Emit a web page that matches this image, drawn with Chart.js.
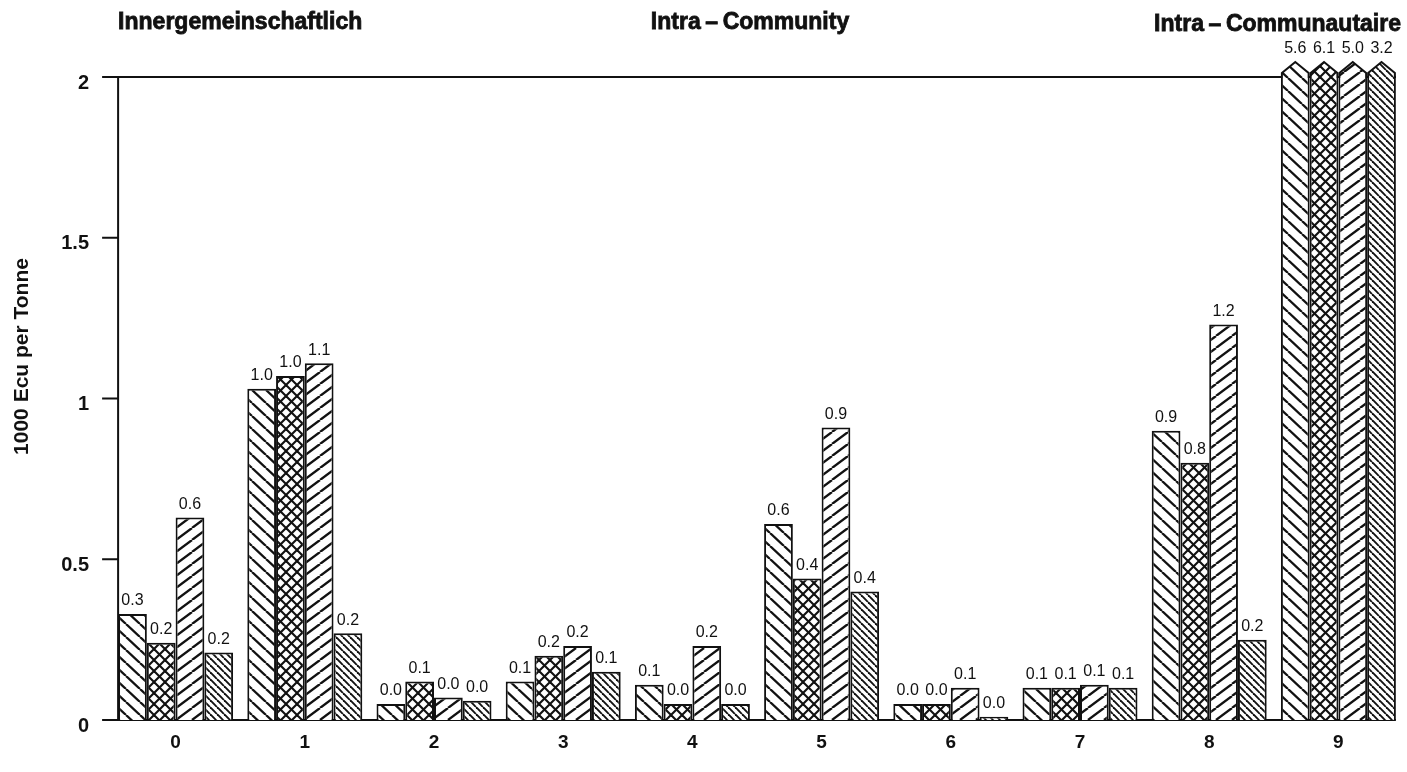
<!DOCTYPE html>
<html>
<head>
<meta charset="utf-8">
<script src="https://cdn.jsdelivr.net/npm/chart.js@4.4.1/dist/chart.umd.min.js"></script>
<style>
  body { margin: 0; background: #fff; }
  #wrap { width: 1407px; height: 772px; }
</style>
</head>
<body>
<div id="wrap"><canvas id="chart"></canvas></div>
<script>
// Product groups 0..9, four series each
const CATEGORIES = ['0', '1', '2', '3', '4', '5', '6', '7', '8', '9'];
const SERIES_A = [0.33, 1.03, 0.05, 0.12, 0.11, 0.61, 0.05, 0.10, 0.90, 5.6];
const SERIES_B = [0.24, 1.07, 0.12, 0.20, 0.05, 0.44, 0.05, 0.10, 0.80, 6.1];
const SERIES_C = [0.63, 1.11, 0.07, 0.23, 0.23, 0.91, 0.10, 0.11, 1.23, 5.0];
const SERIES_D = [0.21, 0.27, 0.06, 0.15, 0.05, 0.40, 0.01, 0.10, 0.25, 3.2];
const Y_TICKS = [0, 0.5, 1, 1.5, 2];
const Y_MAX = 2;
const HEADINGS = ['Innergemeinschaftlich', 'Intra\u2009\u2013\u2009Community', 'Intra\u2009\u2013\u2009Communautaire'];
const Y_TITLE = '1000 Ecu per Tonne';

const FONT = '"Liberation Sans", Arial, Helvetica, sans-serif';
const INK = '#111';
const CAP_SIDE = 4;   // short vertical part of the arrow cap
const CAP_TIP = 15;   // apex height above the top of the axis

// Value labels are cut to one decimal, not rounded
function cut(v) { return (Math.floor(v * 10 + 1e-6) / 10).toFixed(1); }

// Builds a repeating hatch tile. kind: 'down', 'up' or 'cross'
function hatch(kind, w, h, lw) {
  const c = document.createElement('canvas');
  c.width = w; c.height = h;
  const g = c.getContext('2d');
  g.fillStyle = '#fff';
  g.fillRect(0, 0, w, h);
  g.strokeStyle = INK;
  g.lineWidth = lw;
  const line = (x0, y0, x1, y1) => {
    for (const dx of [-w, 0, w]) {
      g.beginPath();
      g.moveTo(x0 + dx, y0);
      g.lineTo(x1 + dx, y1);
      g.stroke();
    }
  };
  if (kind === 'down' || kind === 'cross') line(0, 0, w, h);
  if (kind === 'up' || kind === 'cross') line(0, h, w, 0);
  return g.createPattern(c, 'repeat');
}

const patterns = [
  hatch('down', 14, 13, 2.3),
  hatch('cross', 11, 11, 2.1),
  hatch('up', 16, 12, 2.3),
  hatch('down', 7, 7, 1.9)
];

function barEdges(chart) {
  const first = chart.getDatasetMeta(0).data[0];
  const lastMeta = chart.getDatasetMeta(chart.data.datasets.length - 1);
  const last = lastMeta.data[lastMeta.data.length - 1];
  return {
    left: first.x - first.width / 2,
    right: last.x + last.width / 2
  };
}

// Axis frame: left axis sits on the first bar's edge, ticks point outward
const framePlugin = {
  id: 'frame',
  beforeDatasetsDraw(chart) {
    const { ctx, scales: { y } } = chart;
    const e = barEdges(chart);
    const y0 = y.getPixelForValue(0);
    const yTop = y.getPixelForValue(Y_MAX);
    ctx.save();
    ctx.strokeStyle = INK;
    ctx.lineWidth = 2;
    ctx.beginPath();
    ctx.moveTo(e.left - 16, y0); ctx.lineTo(e.right, y0);
    ctx.moveTo(e.left, y0); ctx.lineTo(e.left, yTop);
    ctx.moveTo(e.left, yTop); ctx.lineTo(e.right, yTop);
    Y_TICKS.forEach(t => {
      const p = y.getPixelForValue(t);
      ctx.moveTo(e.left - 16, p); ctx.lineTo(e.left, p);
    });
    ctx.stroke();
    ctx.restore();
  }
};

// Arrow caps on bars running past the axis top, then the value labels
const labelPlugin = {
  id: 'valueLabels',
  afterDatasetsDraw(chart) {
    const { ctx, chartArea } = chart;
    const top = chartArea.top;
    ctx.save();
    chart.data.datasets.forEach((ds, di) => {
      chart.getDatasetMeta(di).data.forEach((bar, i) => {
        const v = ds.data[i];
        const { x, y, width } = bar.getProps(['x', 'y', 'width'], true);
        const l = x - width / 2 + 1, r = x + width / 2 - 1;
        let ty = y - 5;
        if (v > Y_MAX) {
          ctx.beginPath();
          ctx.moveTo(l, top + 1);
          ctx.lineTo(l, top - CAP_SIDE);
          ctx.lineTo(x, top - CAP_TIP);
          ctx.lineTo(r, top - CAP_SIDE);
          ctx.lineTo(r, top + 1);
          ctx.fillStyle = ds.backgroundColor;
          ctx.fill();
          ctx.strokeStyle = INK;
          ctx.lineWidth = 2;
          ctx.stroke();
          ty = top - CAP_TIP - 5;
        }
        ctx.fillStyle = INK;
        ctx.font = '16px ' + FONT;
        ctx.textAlign = 'center';
        ctx.textBaseline = 'bottom';
        ctx.fillText(cut(v), x, ty);
      });
    });
    ctx.restore();
  },
  afterDraw(chart) {
    const { ctx, chartArea } = chart;
    const e = barEdges(chart);
    ctx.save();
    ctx.fillStyle = INK;
    ctx.strokeStyle = INK;
    ctx.lineWidth = 0.8;
    ctx.font = 'bold 23px ' + FONT;
    ctx.textBaseline = 'middle';
    const heading = (t, x, y, align) => {
      ctx.textAlign = align;
      ctx.fillText(t, x, y);
      ctx.strokeText(t, x, y);   // a touch heavier than plain bold
    };
    heading(HEADINGS[0], e.left, 23, 'left');
    heading(HEADINGS[1], (chartArea.left + chartArea.right) / 2 - 7, 23, 'center');
    heading(HEADINGS[2], chartArea.right - 2, 25, 'right');
    // rotated axis title
    ctx.translate(22, (chartArea.top + chartArea.bottom) / 2 - 42);
    ctx.rotate(-Math.PI / 2);
    ctx.textAlign = 'center';
    ctx.font = 'bold 21px ' + FONT;
    ctx.fillText(Y_TITLE, 0, 0);
    ctx.restore();
  }
};

const seriesList = [SERIES_A, SERIES_B, SERIES_C, SERIES_D];

new Chart(document.getElementById('chart'), {
  type: 'bar',
  data: {
    labels: CATEGORIES,
    datasets: seriesList.map((s, i) => ({
      label: 'S' + (i + 1),
      data: s,
      backgroundColor: patterns[i],
      borderColor: INK,
      borderWidth: 2,
      borderSkipped: 'start',
      categoryPercentage: 0.89,
      barPercentage: 1.0
    }))
  },
  options: {
    responsive: true,
    maintainAspectRatio: false,
    animation: false,
    layout: { padding: { top: 77, right: 4, bottom: 22, left: 0 } },
    plugins: {
      legend: { display: false },
      tooltip: { enabled: false },
      title: { display: false }
    },
    scales: {
      x: {
        grid: { display: false },
        border: { display: false },
        ticks: {
          color: INK,
          padding: 3,
          font: { family: FONT, size: 19, weight: 'bold' }
        },
        afterFit(scale) { scale.height = 30; }
      },
      y: {
        min: 0,
        max: Y_MAX,
        grid: { display: false },
        border: { display: false },
        afterBuildTicks(scale) { scale.ticks = Y_TICKS.map(v => ({ value: v })); },
        ticks: {
          color: INK,
          padding: 14,
          labelOffset: 6,
          font: { family: FONT, size: 20, weight: 'bold' },
          callback: v => String(v)
        },
        afterFit(scale) { scale.width = 111; }
      }
    }
  },
  plugins: [framePlugin, labelPlugin]
});
</script>
</body>
</html>
